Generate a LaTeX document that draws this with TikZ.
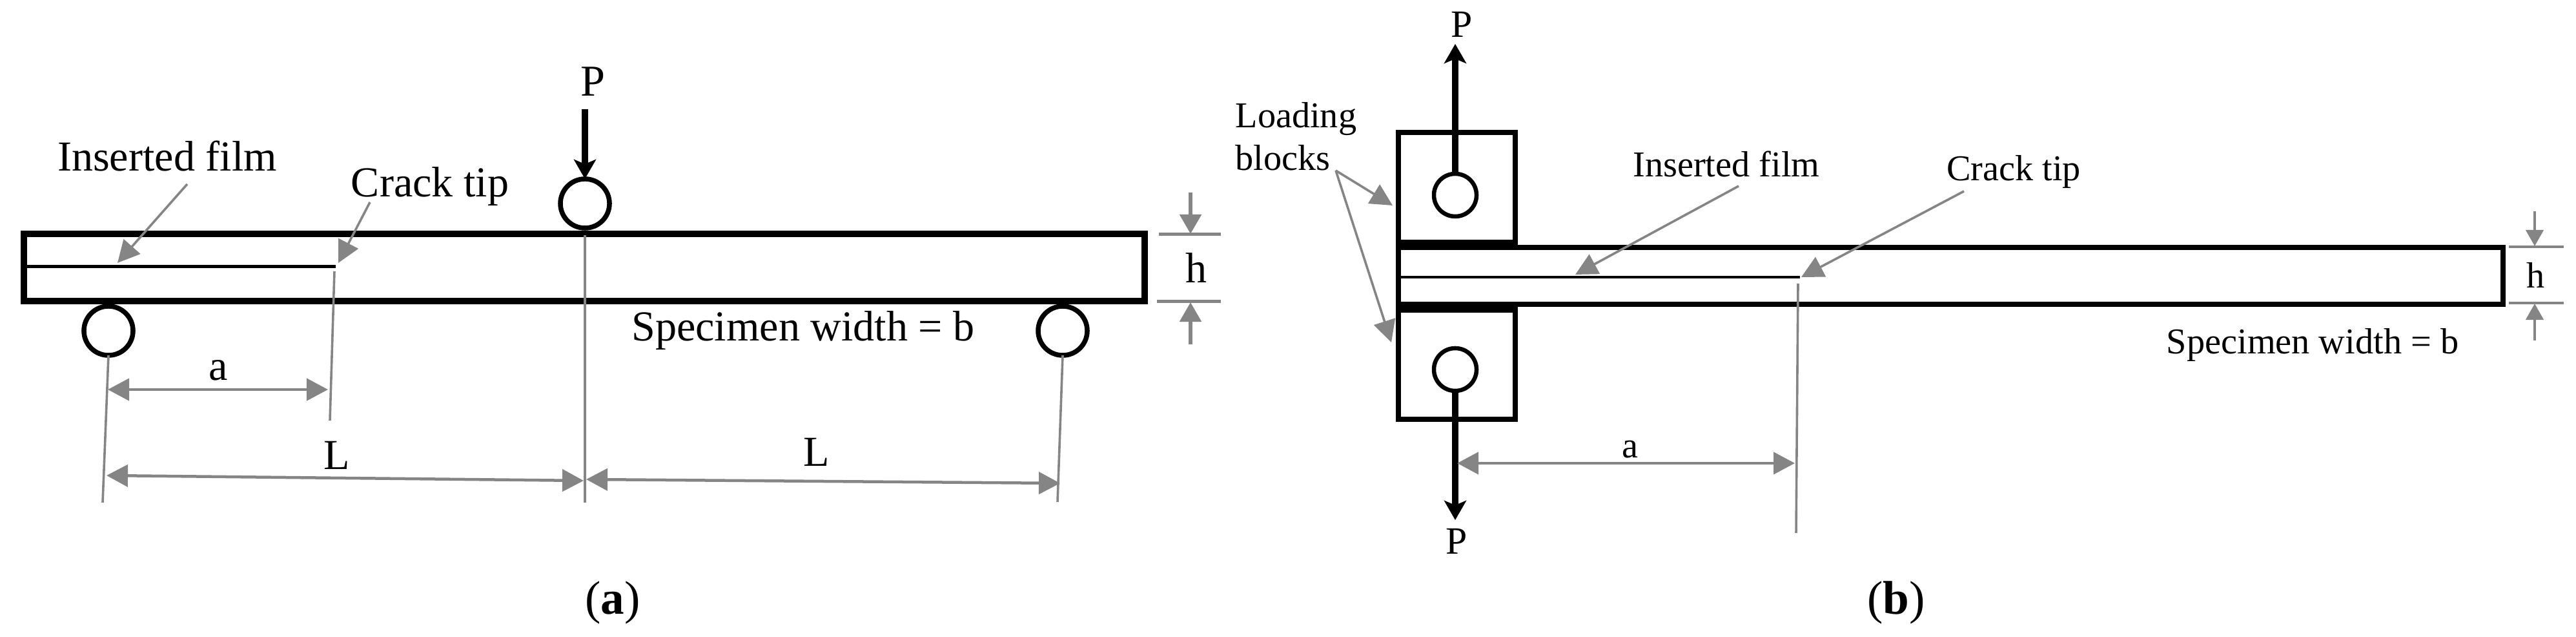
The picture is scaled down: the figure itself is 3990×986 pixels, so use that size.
\documentclass[tikz,border=0pt]{standalone}
\usepackage{fontspec}
\usepackage{xcolor}
\setmainfont{Liberation Serif}
\usetikzlibrary{arrows.meta}
\definecolor{dimgrey}{HTML}{858585}
\tikzset{
  specEdge/.style={draw=black, line width=1mm, line join=miter},
  specEdgeB/.style={draw=black, line width=0.8mm, line join=miter},
  filmLine/.style={draw=black, line width=0.5mm},
  extLine/.style={draw=dimgrey, line width=0.36mm},
  tickLine/.style={draw=dimgrey, line width=0.5mm},
  leaderArr/.style={draw=dimgrey, line width=0.36mm, -{Triangle[length=3.4mm,width=3.4mm,fill=dimgrey]}},
  dimArr/.style={draw=dimgrey, line width=0.45mm, {Triangle[length=3.3mm,width=3.4mm,fill=dimgrey]}-{Triangle[length=3.3mm,width=3.4mm,fill=dimgrey]}},
  hArrA/.style={draw=dimgrey, line width=0.55mm, -{Triangle[length=3mm,width=3.3mm,fill=dimgrey]}},
  hArrB/.style={draw=dimgrey, line width=0.45mm, -{Triangle[length=2.5mm,width=2.7mm,fill=dimgrey]}},
  loadArr/.style={draw=black, line width=1mm, -{Stealth[length=3mm,width=3.4mm,inset=0.7mm]}},
  roller/.style={circle, draw=black, line width=0.75mm, minimum size=7.6mm, inner sep=0pt, outer sep=0pt},
  pin/.style={circle, draw=black, line width=0.65mm, minimum size=6.6mm, inner sep=0pt, outer sep=0pt},
  lblA/.style={anchor=base, inner sep=0pt, font=\fontsize{18.8}{22}\selectfont},
  lblB/.style={anchor=base, inner sep=0pt, font=\fontsize{16}{18.8}\selectfont},
  capLbl/.style={anchor=base, inner sep=0pt, font=\fontsize{20.8}{24}\selectfont},
}

\begin{document}
\begin{tikzpicture}[x=0.01cm, y=-0.01cm]
  \useasboundingbox (0,0) rectangle (3990,986);

  % Panel a: beam, film, rollers
  \draw[specEdge] (37,362) rectangle (1773,466);
  \draw[filmLine] (40,413) -- (520,413);
  \node[roller] (rollTop) at (906,315) {};
  \node[roller] (rollL) at (168,512) {};
  \node[roller] (rollR) at (1646,512) {};

  \coordinate (loadTail) at (906,169);
  \draw[loadArr] (loadTail) -- (rollTop.north);
  \node[lblA, font=\fontsize{19.4}{24}\selectfont] (loadA) at (918,149) {P};

  % Leaders
  \node[lblA] (filmA) at (259,265) {Inserted film};
  \node[lblA] (tipA) at (666,305) {Crack tip};
  \coordinate (filmAs) at (290,285);
  \coordinate (filmAe) at (182,407);
  \coordinate (tipAs) at (573,313);
  \coordinate (tipAe) at (524,407);
  \draw[leaderArr] (filmAs) -- (filmAe);
  \draw[leaderArr] (tipAs) -- (tipAe);

  % Extension lines
  \coordinate (extL) at (159,778);
  \coordinate (extAs) at (518,420);
  \coordinate (extAe) at (511,651);
  \coordinate (extMs) at (906,364);
  \coordinate (extMe) at (906,778);
  \coordinate (extR) at (1638,777);
  \draw[extLine] (rollL.south) -- (extL);
  \draw[extLine] (extAs) -- (extAe);
  \draw[extLine] (extMs) -- (extMe);
  \draw[extLine] (rollR.south) -- (extR);

  % Dimensions
  \coordinate (dimAs) at (167,603);
  \coordinate (dimAe) at (508,603);
  \coordinate (dimL1s) at (165,736);
  \coordinate (dimL1e) at (904,744);
  \coordinate (dimL2s) at (908,742);
  \coordinate (dimL2e) at (1642,748);
  \draw[dimArr] (dimAs) -- (dimAe);
  \draw[dimArr] (dimL1s) -- (dimL1e);
  \draw[dimArr] (dimL2s) -- (dimL2e);
  \node[lblA] (aLblA) at (338,589) {a};
  \node[lblA] (lLbl1) at (522,727) {L};
  \node[lblA] (lLbl2) at (1265,722) {L};

  % Thickness h, panel a
  \coordinate (tkAl) at (1795,363);
  \coordinate (tkAr) at (1891,363);
  \coordinate (bkAl) at (1792,467);
  \coordinate (bkAr) at (1891,467);
  \draw[tickLine] (tkAl) -- (tkAr);
  \draw[tickLine] (bkAl) -- (bkAr);
  \coordinate (hAt) at (1844,298);
  \coordinate (hAti) at (1844,362);
  \coordinate (hAb) at (1844,533);
  \coordinate (hAbi) at (1844,468);
  \draw[hArrA] (hAt) -- (hAti);
  \draw[hArrA] (hAb) -- (hAbi);
  \node[lblA] (hLblA) at (1853,438) {h};
  \node[lblA] (widthA) at (1244,528) {Specimen width = b};

  \node[capLbl] (capA) at (949,951) {(\textbf{a})};

  % Panel b: blocks and beam
  \draw[specEdgeB] (2166,205) rectangle (2347,377);
  \draw[specEdgeB] (2166,478) rectangle (2347,649);
  \fill[black] (2162,371) rectangle (2351,387);
  \fill[black] (2162,468) rectangle (2351,484);
  \draw[specEdgeB] (2166,383) rectangle (3877,471);
  \draw[filmLine, line width=0.4mm] (2170,429) -- (2788,429);

  \node[pin] (pinU) at (2254,302) {};
  \node[pin] (pinD) at (2254,572) {};
  \coordinate (tipU) at (2254,68);
  \coordinate (tipD) at (2254,805);
  \draw[loadArr] (pinU.north) -- (tipU);
  \draw[loadArr] (pinD.south) -- (tipD);
  \node[lblB, font=\fontsize{17}{20}\selectfont] (loadU) at (2264,58) {P};
  \node[lblB, font=\fontsize{17}{20}\selectfont] (loadD) at (2256,858) {P};

  % Leaders
  \node[lblB, anchor=base west, align=left] (blocks) at (1913,264) {Loading\\blocks};
  \coordinate (blkApex) at (2069,264);
  \coordinate (blkU) at (2157,318);
  \coordinate (blkD) at (2155,530);
  \draw[leaderArr] (blkApex) -- (blkU);
  \draw[leaderArr] (blkApex) -- (blkD);

  \node[lblB] (filmB) at (2674,274) {Inserted film};
  \node[lblB] (tipB) at (3119,280) {Crack tip};
  \coordinate (filmBs) at (2693,288);
  \coordinate (filmBe) at (2440,425);
  \coordinate (tipBs) at (3042,296);
  \coordinate (tipBe) at (2790,429);
  \draw[leaderArr] (filmBs) -- (filmBe);
  \draw[leaderArr] (tipBs) -- (tipBe);

  % Crack length
  \coordinate (extBs) at (2785,439);
  \coordinate (extBe) at (2782,825);
  \draw[extLine] (extBs) -- (extBe);
  \coordinate (dimBs) at (2257,717);
  \coordinate (dimBe) at (2780,717);
  \draw[dimArr] (dimBs) -- (dimBe);
  \node[lblB] (aLblB) at (2525,709) {a};

  % Thickness h, panel b
  \coordinate (tkBl) at (3886,382);
  \coordinate (tkBr) at (3971,382);
  \coordinate (bkBl) at (3886,469);
  \coordinate (bkBr) at (3971,469);
  \draw[tickLine, line width=0.4mm] (tkBl) -- (tkBr);
  \draw[tickLine, line width=0.4mm] (bkBl) -- (bkBr);
  \coordinate (hBt) at (3926,327);
  \coordinate (hBti) at (3926,381);
  \coordinate (hBb) at (3926,527);
  \coordinate (hBbi) at (3926,470);
  \draw[hArrB] (hBt) -- (hBti);
  \draw[hArrB] (hBb) -- (hBbi);
  \node[lblB] (hLblB) at (3928,446) {h};
  \node[lblB] (widthB) at (3582,548) {Specimen width = b};

  \node[capLbl] (capB) at (2937,951) {(\textbf{b})};
\end{tikzpicture}
\end{document}
